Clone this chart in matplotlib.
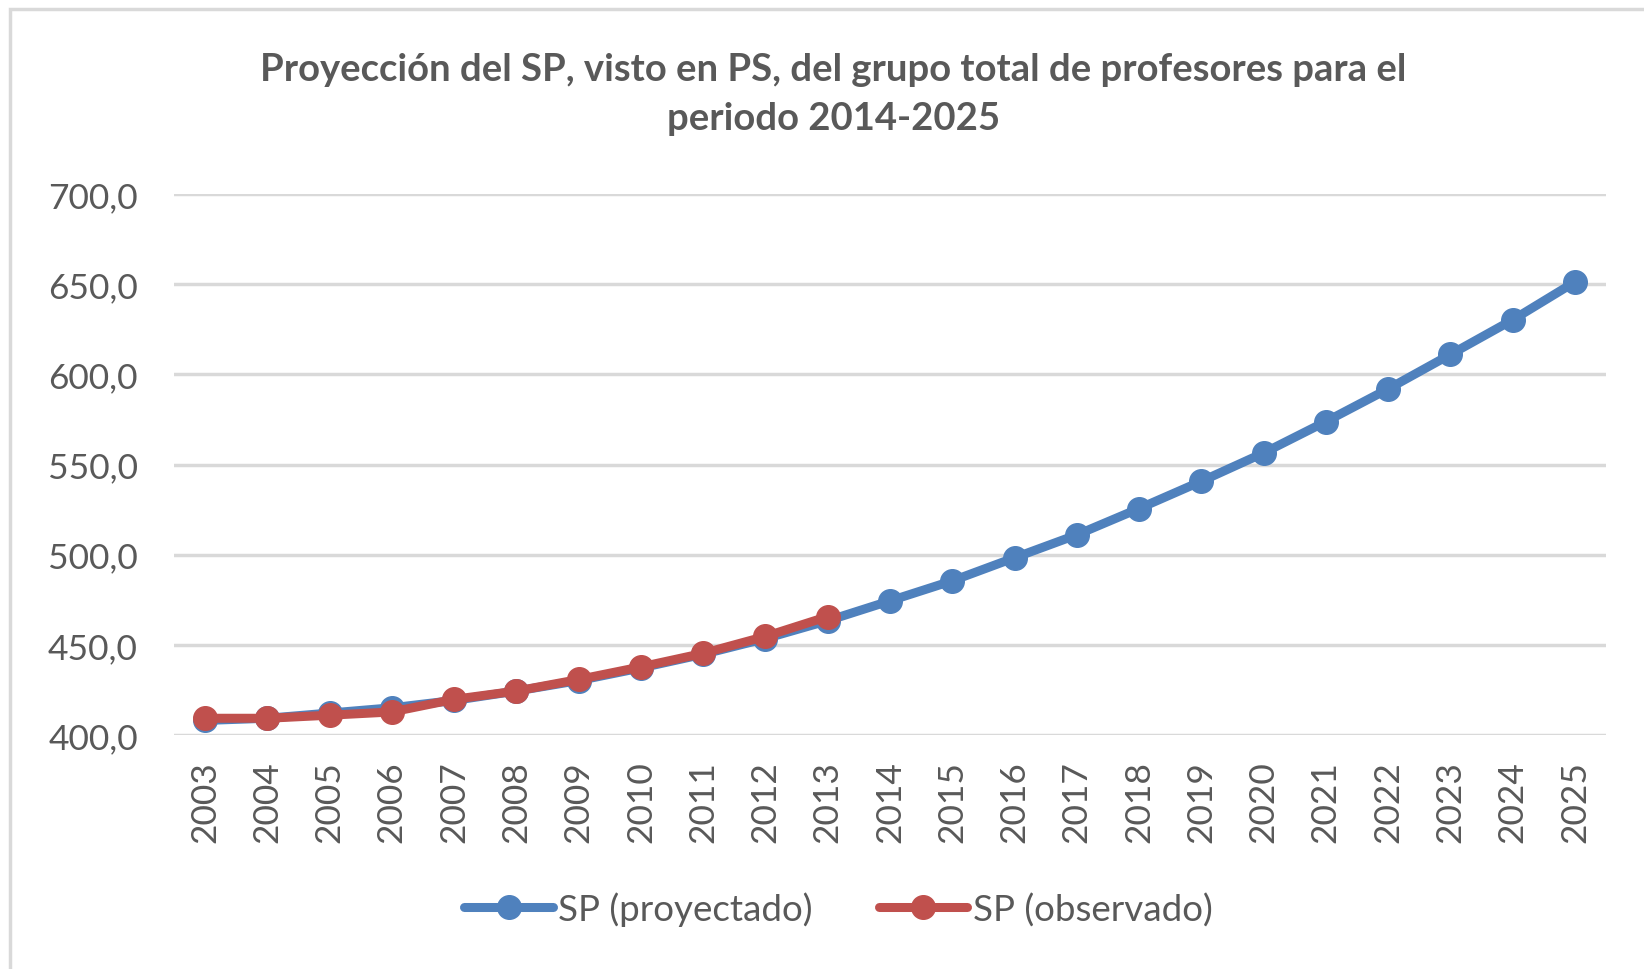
import matplotlib
matplotlib.use('Agg')
import matplotlib.pyplot as plt
from matplotlib.ticker import FuncFormatter
from matplotlib.patches import Rectangle

plt.rcParams['font.family'] = ['Lato', 'DejaVu Sans']

years = [str(y) for y in range(2003, 2026)]
sp_proyectado = [408.1, 409.3, 412.2, 415.1, 419.2, 424.4, 430.2, 437.2, 444.8,
                 453.5, 463.4, 474.4, 485.5, 498.3, 511.0, 525.6, 540.7, 556.4,
                 573.8, 591.9, 611.0, 630.2, 651.2]
sp_observado = [409.3, 409.3, 411.0, 412.8, 419.8, 424.4, 430.8, 437.8, 445.3,
                454.7, 465.7]

blue = '#4F81BD'
red = '#C0504D'
gray = '#595959'

fig = plt.figure(figsize=(16.44, 9.70), dpi=100)
ax = fig.add_axes([0.1058, 0.2412, 0.8711, 0.5578])

x = list(range(len(years)))
ax.plot(x, sp_proyectado, color=blue, lw=6.5, marker='o', ms=17,
        label='SP (proyectado)', solid_capstyle='round', zorder=3)
ax.plot(x[:len(sp_observado)], sp_observado, color=red, lw=6.5, marker='o', ms=17,
        label='SP (observado)', solid_capstyle='round', zorder=4)

ax.set_xlim(-0.5, len(years) - 0.5)
ax.set_ylim(400, 700)
ax.set_yticks(range(400, 701, 50))
ax.yaxis.set_major_formatter(FuncFormatter(lambda v, p: f'{v:.1f}'.replace('.', ',')))
ax.set_xticks(x)
ax.set_xticklabels(years, rotation=90)
ax.tick_params(axis='both', length=0, labelsize=25.5, labelcolor=gray)
ax.tick_params(axis='y', pad=26)
ax.tick_params(axis='x', pad=18)
ax.grid(axis='y', color='#d9d9d9', lw=2.5)
ax.set_axisbelow(True)
for s in ax.spines.values():
    s.set_visible(False)

fig.text(0.507, 0.928, 'Proyección del SP, visto en PS, del grupo total de profesores para el',
         ha='center', va='center', fontsize=27.5, fontweight='bold', color=gray)
fig.text(0.507, 0.877, 'periodo 2014-2025',
         ha='center', va='center', fontsize=27.5, fontweight='bold', color=gray)

fig.legend(loc='center', bbox_to_anchor=(0.51, 0.062), ncol=2, frameon=False,
           fontsize=26.5, labelcolor=gray, handlelength=2.4, handletextpad=0.15,
           columnspacing=1.8)

fig.patches.append(Rectangle((0.006, -0.05), 1.1, 1.04, transform=fig.transFigure,
                             fill=False, edgecolor='#d9d9d9', lw=2.5))

fig.savefig('out.png', dpi=100)
